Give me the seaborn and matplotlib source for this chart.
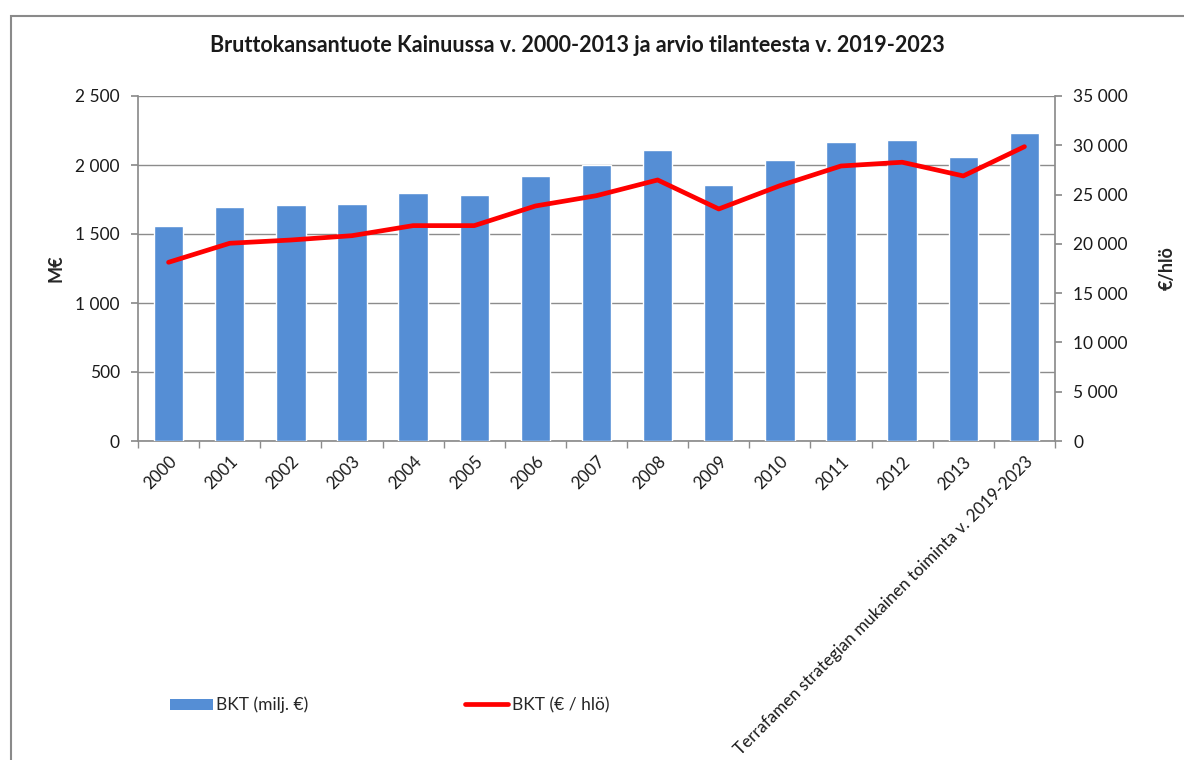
import numpy as np
import pandas as pd
import matplotlib
matplotlib.use("Agg")
import matplotlib.pyplot as plt
from matplotlib.ticker import FuncFormatter, FixedLocator
from matplotlib.patches import Rectangle, Patch
from matplotlib.lines import Line2D
import seaborn as sns

categories = ["2000", "2001", "2002", "2003", "2004", "2005", "2006", "2007",
              "2008", "2009", "2010", "2011", "2012", "2013",
              "Terrafamen strategian mukainen toiminta v. 2019-2023"]
bkt_milj = [1560, 1696, 1710, 1717, 1795, 1780, 1920, 1998,
            2111, 1857, 2034, 2167, 2181, 2060, 2232]
bkt_hlo = [18130, 20060, 20390, 20830, 21850, 21850, 23840, 24890,
           26480, 23540, 25900, 27900, 28280, 26890, 29860]

title = "Bruttokansantuote Kainuussa v. 2000-2013 ja arvio tilanteesta v. 2019-2023"
left_label = "M€"
right_label = "€/hlö"
legend_labels = ["BKT (milj. €)", "BKT (€ / hlö)"]

sns.set_theme(style="white")
plt.rcParams["font.family"] = ["Lato", "DejaVu Sans"]

BLUE = "#558ED5"
RED = "#FF0000"
GRID = "#8c8c8c"

df = pd.DataFrame({"cat": categories, "milj": bkt_milj, "hlo": bkt_hlo})

fig = plt.figure(figsize=(11.84, 7.6), dpi=100)
ax = fig.add_axes([138 / 1184, 1 - 441 / 760, (1055 - 138) / 1184, (441 - 96) / 760])

sns.barplot(data=df, x="cat", y="milj", color=BLUE, width=0.48, ax=ax,
            edgecolor="white", linewidth=1.0, saturation=1, zorder=3)
ax.set_ylim(0, 2500)
ax.set_xlim(-0.5, len(categories) - 0.5)

ax2 = ax.twinx()
sns.pointplot(data=df, x="cat", y="hlo", color=RED, markers="", linewidth=3.4,
              ax=ax2, zorder=5)
ax2.set_ylim(0, 35000)
ax2.set_xlim(-0.5, len(categories) - 0.5)

fmt = FuncFormatter(lambda v, p: f"{int(v):,}".replace(",", " "))
ax.yaxis.set_major_locator(FixedLocator(np.arange(0, 2501, 500)))
ax.yaxis.set_major_formatter(fmt)
ax2.yaxis.set_major_locator(FixedLocator(np.arange(0, 35001, 5000)))
ax2.yaxis.set_major_formatter(fmt)

ax.grid(axis="y", color=GRID, linewidth=1.0, zorder=0)
ax.set_axisbelow(True)
ax2.grid(False)

for a in (ax, ax2):
    a.spines["top"].set_visible(False)
    a.spines["left"].set_color(GRID)
    a.spines["right"].set_color(GRID)
    a.spines["bottom"].set_color(GRID)
    a.set_xlabel("")
ax.spines["right"].set_visible(False)
ax2.spines["left"].set_visible(False)
ax2.spines["bottom"].set_visible(False)

ax.tick_params(axis="y", which="major", length=5, color=GRID, labelsize=12.5,
               labelcolor="#1a1a1a", pad=8, left=True)
ax2.tick_params(axis="y", which="major", length=5, color=GRID, labelsize=12.5,
                labelcolor="#1a1a1a", pad=8, right=True)

ax.set_xticks(range(len(categories)))
ax.set_xticklabels(categories, rotation=45, ha="right", rotation_mode="anchor",
                   fontsize=12.2, color="#1a1a1a")
ax.tick_params(axis="x", which="major", length=0, pad=9)
ax.set_xticks(np.arange(-0.5, len(categories), 1.0), minor=True)
ax.tick_params(axis="x", which="minor", length=5, color=GRID, bottom=True)
ax2.tick_params(axis="x", which="both", bottom=False, labelbottom=False)

ax.set_ylabel(left_label, fontsize=13, fontweight="bold", labelpad=8)
ax2.set_ylabel(right_label, fontsize=13, fontweight="bold", labelpad=22)

fig.text(577 / 1184, 1 - 46 / 760, title, ha="center", va="center",
         fontsize=15.5, fontweight="bold", color="#1a1a1a")

handles = [Patch(facecolor=BLUE, edgecolor="none"),
           Line2D([0], [0], color=RED, linewidth=3.4)]
fig.legend(handles, legend_labels, loc="center left",
           bbox_to_anchor=(154 / 1184, 1 - 705 / 760), ncol=2, frameon=False,
           fontsize=12.5, handlelength=2.5, handletextpad=0.2, columnspacing=9.0,
           handleheight=0.6)

fig.patches.append(Rectangle((11 / 1184, -0.05), 1.1, 1 - 16 / 760 + 0.05,
                             transform=fig.transFigure, fill=False,
                             edgecolor="#8a8a8a", linewidth=1.5, zorder=0))

fig.savefig("out.png", dpi=100)
